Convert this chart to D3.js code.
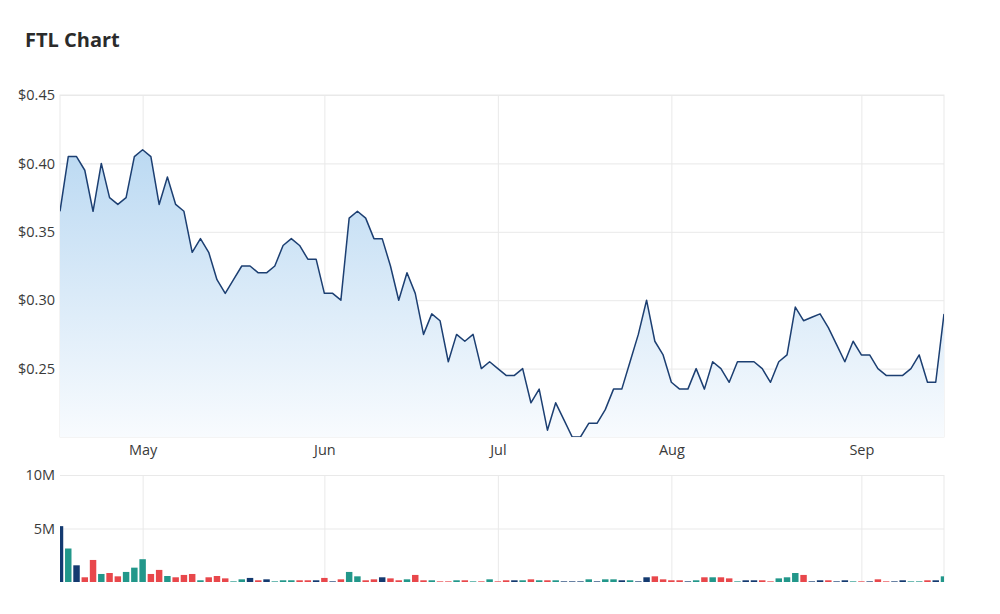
<!DOCTYPE html>
<html>
<head>
<meta charset="utf-8">
<script src="https://cdn.jsdelivr.net/npm/d3@7"></script>
<style>
  html, body { margin: 0; padding: 0; background: #fff; }
  svg { display: block; font-family: "Open Sans", sans-serif; }
</style>
</head>
<body>
<svg id="chart" width="1000" height="614"></svg>
<script>
// ---- data ----
const title = "FTL Chart";
const startDate = "2022-04-13";
const endDate = "2022-09-15";
const holidays = ["2022-04-15", "2022-04-18", "2022-04-25", "2022-06-13"];

const prices = [
  0.365, 0.405, 0.405, 0.395, 0.365, 0.40, 0.375, 0.37, 0.375, 0.405,
  0.41, 0.405, 0.37, 0.39, 0.37, 0.365, 0.335, 0.345, 0.335, 0.315,
  0.305, 0.315, 0.325, 0.325, 0.32, 0.32, 0.325, 0.34, 0.345, 0.34,
  0.33, 0.33, 0.305, 0.305, 0.30, 0.36, 0.365, 0.36, 0.345, 0.345,
  0.325, 0.30, 0.32, 0.305, 0.275, 0.29, 0.285, 0.255, 0.275, 0.27,
  0.275, 0.25, 0.255, 0.25, 0.245, 0.245, 0.25, 0.225, 0.235, 0.205,
  0.225, 0.2125, 0.20, 0.20, 0.21, 0.21, 0.22, 0.235, 0.235, 0.255,
  0.275, 0.30, 0.27, 0.26, 0.24, 0.235, 0.235, 0.25, 0.235, 0.255,
  0.25, 0.24, 0.255, 0.255, 0.255, 0.25, 0.24, 0.255, 0.26, 0.295,
  0.285, 0.2875, 0.29, 0.28, 0.2675, 0.255, 0.27, 0.26, 0.26, 0.25,
  0.245, 0.245, 0.245, 0.25, 0.26, 0.24, 0.24, 0.29
];

// volume in millions
const volumes = [
  5.22, 3.13, 1.56, 0.44, 2.06, 0.75, 0.84, 0.53, 0.94, 1.34,
  2.13, 0.75, 1.13, 0.56, 0.44, 0.66, 0.75, 0.16, 0.44, 0.56,
  0.34, 0.06, 0.25, 0.38, 0.16, 0.25, 0.06, 0.16, 0.16, 0.16,
  0.16, 0.16, 0.38, 0.06, 0.25, 0.94, 0.53, 0.16, 0.25, 0.44,
  0.34, 0.16, 0.25, 0.66, 0.16, 0.16, 0.06, 0.06, 0.16, 0.16,
  0.06, 0.06, 0.25, 0.06, 0.16, 0.16, 0.16, 0.25, 0.16, 0.16,
  0.16, 0.06, 0.06, 0.06, 0.25, 0.06, 0.25, 0.25, 0.16, 0.16,
  0.06, 0.44, 0.53, 0.25, 0.16, 0.16, 0.06, 0.16, 0.44, 0.44,
  0.44, 0.34, 0.06, 0.16, 0.16, 0.16, 0.06, 0.34, 0.44, 0.84,
  0.66, 0.06, 0.16, 0.16, 0.06, 0.16, 0.06, 0.06, 0.06, 0.25,
  0.06, 0.06, 0.16, 0.06, 0.06, 0.16, 0.16, 0.53
];

// u = up, d = down, f = flat
const dirList = [
  "f","u","f","d","d","u","d","d","u","u",
  "u","d","d","u","d","d","d","u","d","d",
  "d","u","u","f","d","f","u","u","u","d",
  "d","f","d","f","d","u","u","d","d","f",
  "d","d","u","d","d","u","d","d","u","d",
  "u","d","u","d","d","f","u","d","u","d",
  "u","f","f","f","u","f","u","u","f","u",
  "f","f","d","d","d","d","f","u","d","u",
  "d","d","u","f","f","d","d","u","u","u",
  "d","f","f","d","f","f","u","d","f","d",
  "d","f","f","u","u","d","f","u"
];

const priceTicks = [0.25, 0.30, 0.35, 0.40, 0.45];
const volumeTicks = [5, 10];
const volumeTickLabels = ["5M", "10M"];

// ---- trading dates ----
const parse = d3.utcParse("%Y-%m-%d");
const fmt = d3.utcFormat("%Y-%m-%d");
const dates = d3.utcDay.range(parse(startDate), d3.utcDay.offset(parse(endDate), 1))
  .filter(d => d.getUTCDay() !== 0 && d.getUTCDay() !== 6 && !holidays.includes(fmt(d)))
  .map(fmt);

const rows = dates.map((d, i) => ({ date: d, price: prices[i], vol: volumes[i], dir: dirList[i] }));

// month ticks: first trading day of each month (skip first partial month)
const monthTicks = dates.filter((d, i) => i > 0 && d.slice(5, 7) !== dates[i - 1].slice(5, 7));
const monthFmt = d3.utcFormat("%b");

// ---- layout ----
const svg = d3.select("#chart");
const L = 60, R = 944;
const pTop = 95, pBot = 437;
const vTop = 475, vBot = 582;

const x = d3.scalePoint().domain(dates).range([L, R]);
const y = d3.scaleLinear().domain([0.20, 0.45]).range([pBot, pTop]);
const yv = d3.scaleLinear().domain([0, 10]).range([vBot, vTop]);

const gridColor = "#e9e9e9";
const textColor = "#3a3a3a";

// title
svg.append("text").attr("x", 25).attr("y", 47)
  .attr("font-size", 20).attr("font-weight", 700).attr("fill", "#2b2b2b")
  .text(title);

// defs
const defs = svg.append("defs");
const grad = defs.append("linearGradient").attr("id", "areaGrad")
  .attr("gradientUnits", "userSpaceOnUse")
  .attr("x1", 0).attr("x2", 0).attr("y1", pTop).attr("y2", pBot);
grad.append("stop").attr("offset", 0).attr("stop-color", "#b0d3f0");
grad.append("stop").attr("offset", 1).attr("stop-color", "#f8fbfe");
defs.append("clipPath").attr("id", "clipP").append("rect")
  .attr("x", L).attr("y", pTop).attr("width", R - L).attr("height", pBot - pTop);
defs.append("clipPath").attr("id", "clipV").append("rect")
  .attr("x", L).attr("y", vTop).attr("width", R - L).attr("height", vBot - vTop + 1);

// ---- price pane grid ----
const gP = svg.append("g");
gP.append("g").attr("transform", `translate(${L},0)`)
  .call(d3.axisLeft(y).tickValues(priceTicks).tickSize(-(R - L)).tickFormat(d => "$" + d.toFixed(2)))
  .call(g => g.select(".domain").remove())
  .call(g => g.selectAll(".tick line").attr("stroke", gridColor))
  .call(g => g.selectAll(".tick text").attr("x", -5).attr("fill", textColor)
    .attr("font-size", 14.5).attr("font-family", "Open Sans, sans-serif"));

gP.append("g").attr("transform", `translate(0,${pBot})`)
  .call(d3.axisBottom(x).tickValues(monthTicks).tickSize(-(pBot - pTop)).tickFormat(d => monthFmt(parse(d))))
  .call(g => g.select(".domain").remove())
  .call(g => g.selectAll(".tick line").attr("stroke", gridColor))
  .call(g => g.selectAll(".tick text").attr("y", 8).attr("fill", textColor)
    .attr("font-size", 14.5).attr("font-family", "Open Sans, sans-serif"));

gP.append("rect").attr("x", L).attr("y", pTop).attr("width", R - L).attr("height", pBot - pTop)
  .attr("fill", "none").attr("stroke", gridColor);

// area + line
const area = d3.area().x(d => x(d.date)).y0(pBot).y1(d => y(d.price));
const line = d3.line().x(d => x(d.date)).y(d => y(d.price));
const gPlot = svg.append("g").attr("clip-path", "url(#clipP)");
gPlot.append("path").datum(rows).attr("d", area).attr("fill", "url(#areaGrad)");
gPlot.append("path").datum(rows).attr("d", line).attr("fill", "none")
  .attr("stroke", "#1c3f72").attr("stroke-width", 1.5).attr("stroke-linejoin", "round");

// ---- volume pane ----
const gV = svg.append("g");
gV.append("g").attr("transform", `translate(${L},0)`)
  .call(d3.axisLeft(yv).tickValues(volumeTicks).tickSize(-(R - L)).tickFormat((d, i) => volumeTickLabels[i]))
  .call(g => g.select(".domain").remove())
  .call(g => g.selectAll(".tick line").attr("stroke", gridColor))
  .call(g => g.selectAll(".tick text").attr("x", -5).attr("fill", textColor)
    .attr("font-size", 14.5).attr("font-family", "Open Sans, sans-serif"));

gV.append("g").attr("transform", `translate(0,${vBot})`)
  .call(d3.axisBottom(x).tickValues(monthTicks).tickSize(-(vBot - vTop)).tickFormat(""))
  .call(g => g.select(".domain").remove())
  .call(g => g.selectAll(".tick line").attr("stroke", gridColor));

gV.append("line").attr("x1", R).attr("x2", R).attr("y1", vTop).attr("y2", vBot).attr("stroke", gridColor);

const colorMap = { u: "#22978a", d: "#e8474b", f: "#143a70" };
const step = x.step();
const bw = step - 1.8;
svg.append("g").attr("clip-path", "url(#clipV)")
  .selectAll("rect").data(rows).join("rect")
  .attr("x", d => x(d.date) - bw / 2)
  .attr("width", bw)
  .attr("y", d => yv(d.vol))
  .attr("height", d => yv(0) - yv(d.vol))
  .attr("fill", d => colorMap[d.dir]);
</script>
</body>
</html>
